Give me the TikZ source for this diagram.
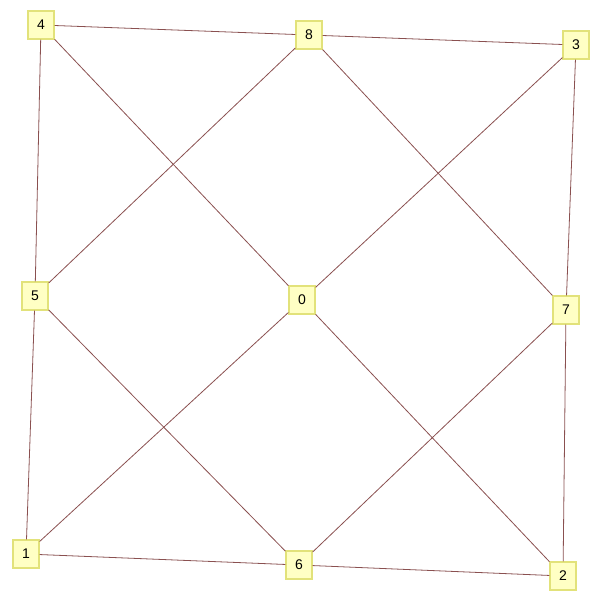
\documentclass[tikz,border=0pt]{standalone}
\usepackage{fontspec}
\setmainfont{Liberation Sans}
\definecolor{nodefill}{HTML}{FFFFC4}
\definecolor{nodeborder}{HTML}{E2E27A}
\definecolor{edgecol}{HTML}{8A5050}
\begin{document}
\begin{tikzpicture}[x=1pt,y=-1pt,
  nbox/.style={draw=nodeborder,fill=nodefill,line width=1.2pt,minimum width=26pt,minimum height=28pt,inner sep=0pt,font=\fontsize{14}{14}\selectfont},
  edge/.style={draw=edgecol,line width=0.8pt}]
\useasboundingbox (0,0) rectangle (591,594);
\fill[white] (0,0) rectangle (591,594);
\node[nbox] (n4) at (41,25) {4};
\node[nbox] (n8) at (309,35) {8};
\node[nbox] (n3) at (576,45) {3};
\node[nbox] (n5) at (35,296) {5};
\node[nbox] (n0) at (302,300) {0};
\node[nbox] (n7) at (566,310) {7};
\node[nbox] (n1) at (26,554) {1};
\node[nbox] (n6) at (299,565) {6};
\node[nbox] (n2) at (563,576) {2};
\foreach \a/\b in {n4/n8,n8/n3,n4/n5,n5/n1,n3/n7,n7/n2,n1/n6,n6/n2,n4/n0,n0/n2,n3/n0,n0/n1,n8/n5,n8/n7,n5/n6,n6/n7}
  \draw[edge] (\a) -- (\b);
\end{tikzpicture}
\end{document}
